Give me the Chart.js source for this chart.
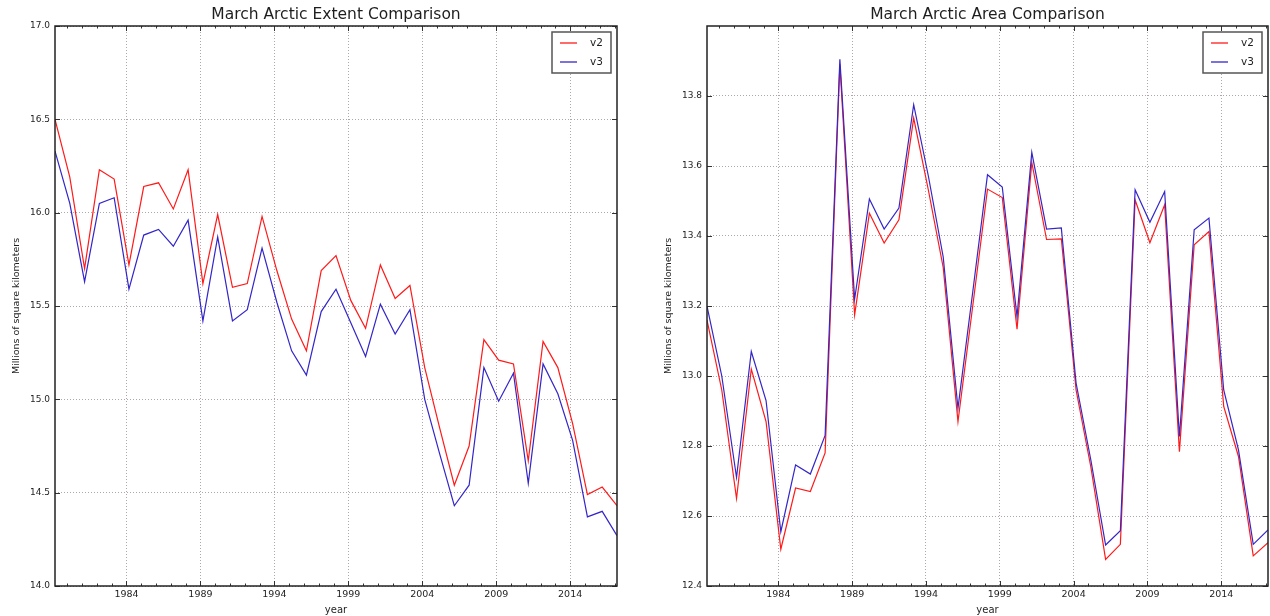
<!DOCTYPE html>
<html lang="en">
<head>
<meta charset="UTF-8">
<title>March Arctic Extent / Area Comparison</title>
<script src="https://cdn.jsdelivr.net/npm/chart.js"></script>
<style>
  body { margin: 0; background: #fff; }
  .panel { position: absolute; top: 0; width: 635px; height: 616px; }
  #left { left: 0; }
  #right { left: 635px; }
</style>
</head>
<body>
<div class="panel" id="left"><canvas id="extentChart" width="635" height="616"></canvas></div>
<div class="panel" id="right"><canvas id="areaChart" width="635" height="616"></canvas></div>
<script>
// March values, millions of km^2
const years = [1979, 1980, 1981, 1982, 1983, 1984, 1985, 1986, 1987, 1988,
  1989, 1990, 1991, 1992, 1993, 1994, 1995, 1996, 1997, 1998,
  1999, 2000, 2001, 2002, 2003, 2004, 2005, 2006, 2007, 2008,
  2009, 2010, 2011, 2012, 2013, 2014, 2015, 2016, 2017];

const extentV2 = [16.50, 16.19, 15.70, 16.23, 16.18, 15.72, 16.14, 16.16, 16.02, 16.23,
  15.62, 15.99, 15.60, 15.62, 15.98, 15.69, 15.43, 15.26, 15.69, 15.77,
  15.53, 15.38, 15.72, 15.54, 15.61, 15.17, 14.85, 14.54, 14.75, 15.32,
  15.21, 15.19, 14.67, 15.31, 15.17, 14.87, 14.49, 14.53, 14.43];
const extentV3 = [16.33, 16.05, 15.63, 16.05, 16.08, 15.59, 15.88, 15.91, 15.82, 15.96,
  15.42, 15.87, 15.42, 15.48, 15.81, 15.52, 15.26, 15.13, 15.47, 15.59,
  15.41, 15.23, 15.51, 15.35, 15.48, 15.00, 14.71, 14.43, 14.54, 15.17,
  14.99, 15.14, 14.55, 15.19, 15.03, 14.78, 14.37, 14.40, 14.27];

const areaV2 = [13.16, 12.96, 12.65, 13.02, 12.87, 12.505, 12.68, 12.67, 12.78, 13.89,
  13.175, 13.465, 13.38, 13.446, 13.737, 13.53, 13.31, 12.87, 13.20, 13.534,
  13.51, 13.134, 13.61, 13.39, 13.392, 12.96, 12.74, 12.476, 12.519, 13.503,
  13.381, 13.489, 12.784, 13.375, 13.413, 12.913, 12.77, 12.486, 12.524];
const areaV3 = [13.20, 13.00, 12.71, 13.07, 12.93, 12.555, 12.746, 12.72, 12.83, 13.905,
  13.22, 13.506, 13.42, 13.48, 13.775, 13.57, 13.34, 12.908, 13.24, 13.575,
  13.54, 13.17, 13.639, 13.42, 13.423, 12.98, 12.76, 12.517, 12.558, 13.532,
  13.439, 13.527, 12.827, 13.418, 13.451, 12.96, 12.789, 12.519, 12.56];

const xTicks = [1984, 1989, 1994, 1999, 2004, 2009, 2014];
const extentTicks = [14.0, 14.5, 15.0, 15.5, 16.0, 16.5, 17.0];
const areaTicks = [12.4, 12.6, 12.8, 13.0, 13.2, 13.4, 13.6, 13.8];

// points are March values, ticks mark Jan 1
const MARCH = 2 / 12;
const FONT = "'DejaVu Sans', sans-serif";
const INK = '#1e1e1e';
const GRID = 'rgba(120,110,110,0.6)';

const toPoints = (vals) => vals.map((v, i) => ({ x: years[i] + MARCH, y: v }));

// title over the axes, frame, inward tick marks and the boxed legend
const axesDecor = {
  id: 'axesDecor',
  afterDatasetsDraw(chart, args, opts) {
    const { ctx, chartArea: a, scales: { x, y } } = chart;
    ctx.save();

    ctx.fillStyle = INK;
    ctx.font = '15.5px ' + FONT;
    ctx.textAlign = 'center';
    ctx.textBaseline = 'middle';
    ctx.fillText(opts.title, (a.left + a.right) / 2, 15);

    ctx.strokeStyle = '#333';
    ctx.lineWidth = 1;
    ctx.beginPath();
    for (let yr = Math.ceil(x.min); yr <= x.max; yr++) {
      const px = Math.round(x.getPixelForValue(yr)) + 0.5;
      const len = xTicks.includes(yr) ? 5 : 2.5;
      ctx.moveTo(px, a.bottom); ctx.lineTo(px, a.bottom - len);
      ctx.moveTo(px, a.top); ctx.lineTo(px, a.top + len);
    }
    y.ticks.forEach(t => {
      const py = Math.round(y.getPixelForValue(t.value)) + 0.5;
      ctx.moveTo(a.left, py); ctx.lineTo(a.left + 5, py);
      ctx.moveTo(a.right, py); ctx.lineTo(a.right - 5, py);
    });
    ctx.stroke();

    ctx.lineWidth = 1.5;
    ctx.strokeStyle = '#222';
    ctx.strokeRect(a.left, a.top, a.right - a.left, a.bottom - a.top);

    // legend box
    const bw = 59, bh = 41;
    const bx = a.right - 6 - bw, by = a.top + 6;
    ctx.fillStyle = '#fff';
    ctx.fillRect(bx, by, bw, bh);
    ctx.lineWidth = 1.5;
    ctx.strokeStyle = '#555';
    ctx.strokeRect(bx, by, bw, bh);
    ctx.font = '10.5px ' + FONT;
    ctx.textAlign = 'left';
    chart.data.datasets.forEach((ds, i) => {
      const ly = by + 11 + i * 19;
      ctx.strokeStyle = ds.borderColor;
      ctx.lineWidth = 1.3;
      ctx.beginPath();
      ctx.moveTo(bx + 8, ly); ctx.lineTo(bx + 25, ly);
      ctx.stroke();
      ctx.fillStyle = INK;
      ctx.fillText(ds.label, bx + 38, ly);
    });
    ctx.restore();
  }
};

function makeChart(id, title, v2, v3, yTicks, yMin, yMax, yWidth, yTitlePad, padRight) {
  return new Chart(document.getElementById(id), {
    type: 'line',
    data: {
      datasets: [
        { label: 'v2', data: toPoints(v2), borderColor: '#ff1a1a', order: 1 },
        { label: 'v3', data: toPoints(v3), borderColor: '#3326c8', order: 0 }
      ]
    },
    options: {
      responsive: false,
      animation: false,
      layout: { padding: { left: 0, right: padRight, top: 26, bottom: 0 } },
      elements: {
        point: { radius: 0 },
        line: { borderWidth: 1.2, tension: 0, fill: false }
      },
      plugins: {
        legend: { display: false },
        tooltip: { enabled: false },
        title: { display: false },
        axesDecor: { title: title }
      },
      scales: {
        x: {
          type: 'linear',
          min: years[0] + MARCH,
          max: years[years.length - 1] + MARCH,
          afterBuildTicks: (s) => { s.ticks = xTicks.map(v => ({ value: v })); },
          afterFit: (s) => { s.height = 30; },
          ticks: {
            color: INK, padding: 3, maxRotation: 0,
            font: { family: FONT, size: 9.5 },
            callback: (v) => String(v)
          },
          grid: { color: GRID, drawTicks: false },
          border: { display: false, dash: [1, 2] },
          title: {
            display: true, text: 'year', color: INK,
            font: { family: FONT, size: 10 }, padding: { top: 0, bottom: 0 }
          }
        },
        y: {
          type: 'linear',
          min: yMin,
          max: yMax,
          afterBuildTicks: (s) => { s.ticks = yTicks.map(v => ({ value: v })); },
          afterFit: (s) => { s.width = yWidth; },
          ticks: {
            color: INK, padding: 5,
            font: { family: FONT, size: 9 },
            callback: (v) => Number(v).toFixed(1)
          },
          grid: { color: GRID, drawTicks: false },
          border: { display: false, dash: [1, 2] },
          title: {
            display: true, text: 'Millions of square kilometers', color: INK,
            font: { family: FONT, size: 9.5 }, padding: { top: yTitlePad, bottom: 0 }
          }
        }
      }
    },
    plugins: [axesDecor]
  });
}

makeChart('extentChart', 'March Arctic Extent Comparison', extentV2, extentV3,
  extentTicks, 14.0, 17.0, 55, 11.3, 18);
makeChart('areaChart', 'March Arctic Area Comparison', areaV2, areaV3,
  areaTicks, 12.4, 14.0, 72, 28.3, 2);
</script>
</body>
</html>
